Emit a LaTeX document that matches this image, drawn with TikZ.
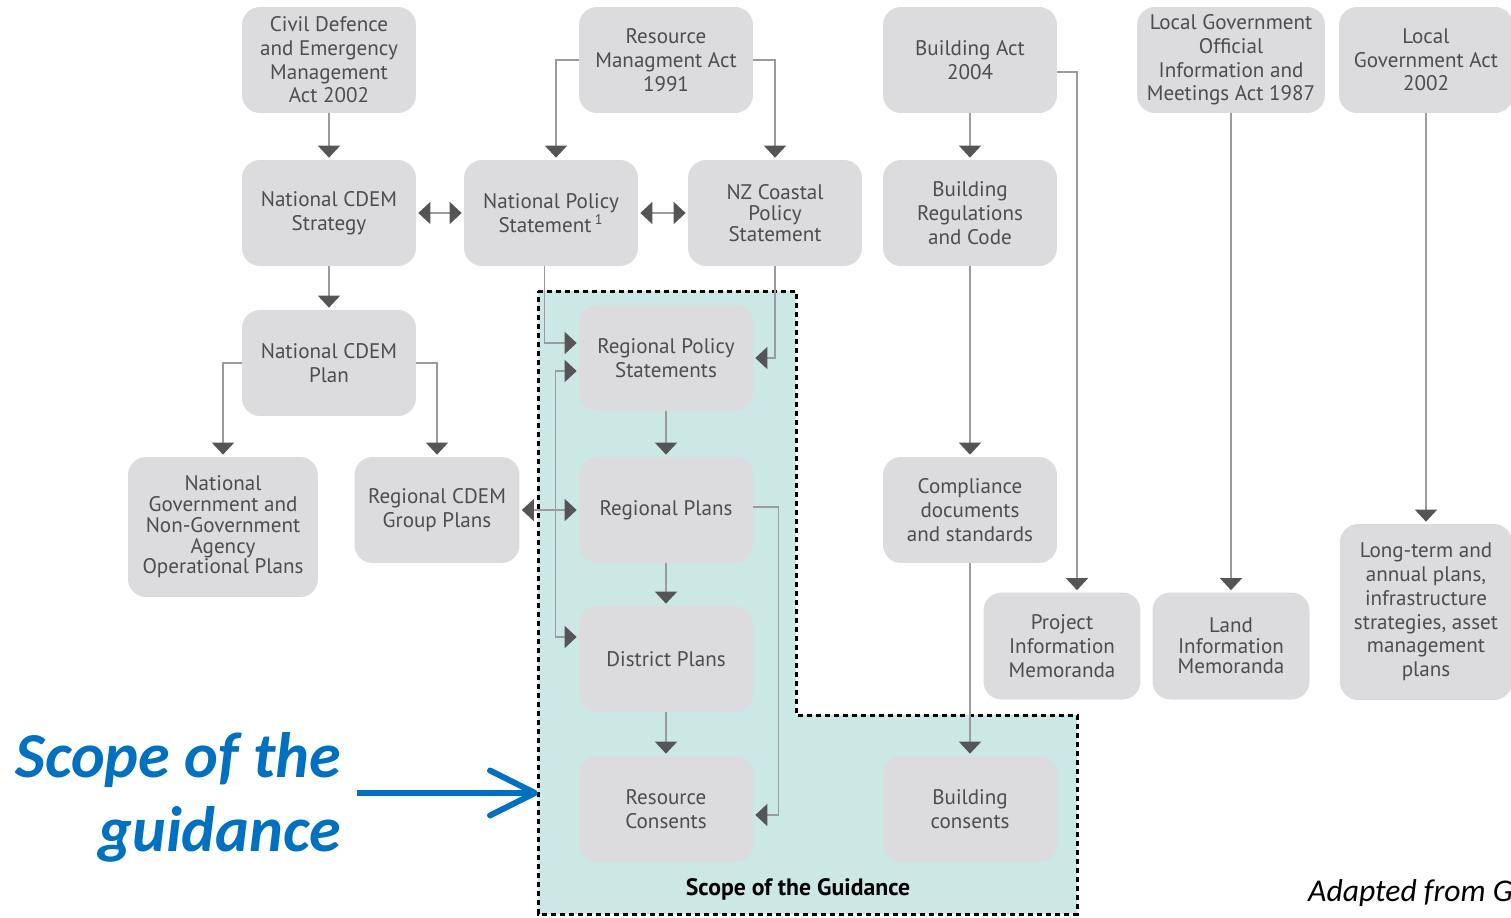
\documentclass[tikz,border=0pt]{standalone}
\usepackage{fontspec}
\setmainfont{PT Sans}
\newfontfamily\calibri{Carlito}
\usetikzlibrary{arrows.meta}
\definecolor{boxgray}{HTML}{DCDCDE}
\definecolor{textgray}{HTML}{4D4D4F}
\definecolor{linegray}{HTML}{9B9B9B}
\definecolor{tipgray}{HTML}{555557}
\definecolor{scopeteal}{HTML}{CBE8E5}
\definecolor{scopeblue}{HTML}{0070C0}

\begin{document}
\begin{tikzpicture}[x=0.02cm, y=-0.02cm]
    \tikzset{doc/.style = {shape=rectangle, rounded corners=0.36cm, fill=boxgray, text=textgray, align=center, inner sep=0pt, minimum width=3.48cm, minimum height=2.12cm, font=\fontsize{12}{13.5}\selectfont}}
    \tikzset{tight/.style = {font=\fontsize{12}{11.8}\selectfont}}
    \tikzset{edge/.style = {draw=linegray, line width=0.03cm, -{Triangle[width=0.44cm,length=0.24cm,color=tipgray]}, shorten >=0.04cm}}
    \tikzset{twoway/.style = {edge, {Triangle[width=0.44cm,length=0.24cm,color=tipgray]}-{Triangle[width=0.44cm,length=0.24cm,color=tipgray]}, shorten <=0.04cm}}

    \useasboundingbox (0,0) rectangle (1511,917);

    % scope of the guidance
    \draw[fill=scopeteal, line width=0.06cm, dash pattern=on 0.1cm off 0.08cm] (538,291) -- (796,291) -- (796,715) -- (1077,715) -- (1077,914) -- (538,914) -- cycle;
    \coordinate (zoneleft) at (538,793);

    % vertices
    \node[doc] (civil) at (329,60) {Civil Defence\\and Emergency\\Management\\Act 2002};
    \node[doc] (rma) at (666,60) {Resource\\Managment Act\\1991};
    \node[doc] (bact) at (970,60) {Building Act\\2004};
    \node[doc, minimum width=3.76cm] (lgoima) at (1231,60) {Local Government\\Official\\Information and\\Meetings Act 1987};
    \node[doc] (lga) at (1426,60) {Local\\Government Act\\2002};

    \node[doc] (ncdems) at (329,213) {National CDEM\\Strategy};
    \node[doc, tight] (nps) at (551,213) {National Policy\\Statement\,\textsuperscript{1}};
    \node[doc, tight] (nzcps) at (775,213) {NZ Coastal\\Policy\\Statement};
    \node[doc] (bregs) at (970,213) {Building\\Regulations\\and Code};

    \node[doc] (ncdemp) at (329,363) {National CDEM\\Plan};
    \node[doc] (rps) at (666,358) {Regional Policy\\Statements};

    \node[doc, tight, minimum width=3.8cm, minimum height=2.8cm] (ngov) at (223,527) {National\\Government and\\Non-Government\\Agency\\Operational Plans};
    \node[doc, minimum width=3.3cm] (rcdem) at (437,510) {Regional CDEM\\Group Plans};
    \node[doc] (rplans) at (666,510) {Regional Plans};
    \node[doc] (comply) at (970,510) {Compliance\\documents\\and standards};
    \node[doc, minimum width=3.44cm, minimum height=3.52cm] (ltp) at (1426,612) {Long-term and\\annual plans,\\infrastructure\\strategies, asset\\management\\plans};

    \node[doc] (district) at (666,659) {District Plans};
    \node[doc, minimum width=3.14cm, minimum height=2.14cm] (pim) at (1062,646) {Project\\Information\\Memoranda};
    \node[doc, tight, minimum width=3.14cm, minimum height=2.14cm] (lim) at (1231,646) {Land\\Information\\Memoranda};

    \node[doc] (rcons) at (666,809) {Resource\\Consents};
    \node[doc] (bcons) at (970,809) {Building\\consents};

    % labels
    \node[font=\fontsize{13.5}{15}\selectfont\bfseries] (scopetitle) at (798,889) {Scope of the Guidance};
    \node[anchor=east, align=right, text=scopeblue, font=\calibri\fontsize{36.5}{42}\selectfont\bfseries\itshape] (scopelabel) at (347,797) {Scope of the\\guidance};
    \node[anchor=west, font=\calibri\fontsize{18}{20}\selectfont\itshape] (source) at (1302,893) {Adapted from G};

    % edges
    \draw[edge] (civil) -- (ncdems);
    \draw[edge] (ncdems) -- (ncdemp);
    \draw[edge] (rma.west) -| ([xshift=0.1cm]nps.north);
    \draw[edge] (rma.east) -| (nzcps.north);
    \draw[twoway] (ncdems) -- (nps);
    \draw[twoway] (nps) -- (nzcps);
    \draw[edge] (ncdemp.west) -| (ngov.north);
    \draw[edge] (ncdemp.east) -| (rcdem.north);
    \draw[edge] ([xshift=-0.13cm]nps.south) |- ([yshift=0.3cm]rps.west);
    \draw[edge] (nzcps.south) |- (rps.east);
    \draw[twoway] ([yshift=-0.26cm]rps.west) -- ++(-0.46cm,0) |- ([yshift=0.44cm]district.west);
    \draw[edge] (rps) -- (rplans);
    \draw[edge] (rplans) -- (district);
    \draw[edge] (district) -- (rcons);
    \draw[twoway] (rcdem) -- (rplans);
    \draw[edge] ([yshift=0.06cm]rplans.east) -- ++(0.5cm,0) |- ([yshift=-0.12cm]rcons.east);
    \draw[edge] (bact) -- (bregs);
    \draw[edge] (bregs) -- (comply);
    \draw[edge] (comply) -- (bcons);
    \draw[edge] ([yshift=-0.24cm]bact.east) -| ([xshift=0.3cm]pim.north);
    \draw[edge] (lgoima) -- (lim);
    \draw[edge] (lga) -- (ltp);
    \draw[draw=scopeblue, line width=0.12cm, -{Straight Barb[length=0.9cm,width=0.9cm,round]}, shorten <=0.2cm] (scopelabel.east |- zoneleft) -- (zoneleft);
\end{tikzpicture}
\end{document}
